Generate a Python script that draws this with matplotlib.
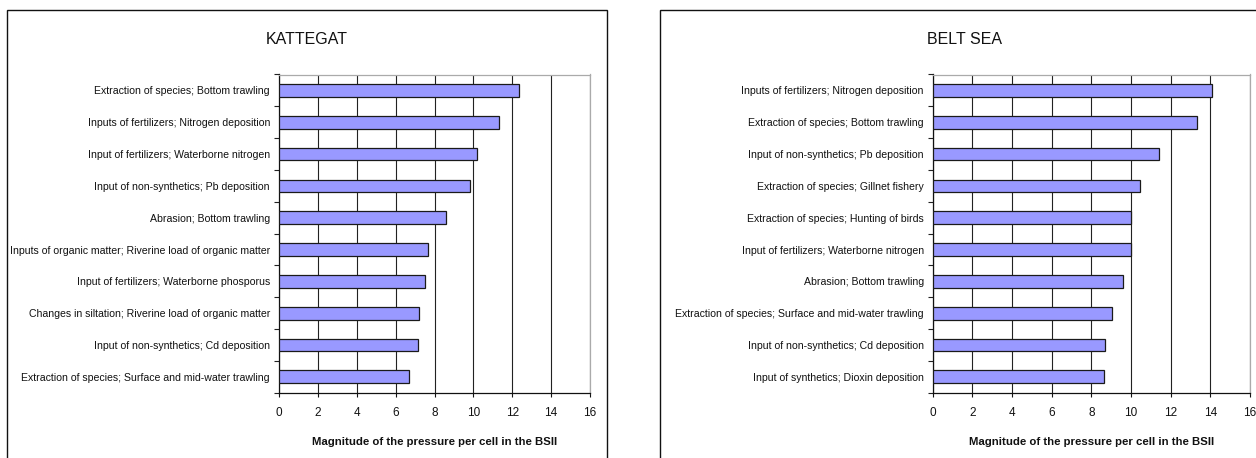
import matplotlib
matplotlib.use("Agg")
import matplotlib.pyplot as plt
from matplotlib.patches import Rectangle

plt.rcParams["font.family"] = ["Liberation Sans", "DejaVu Sans"]

# ---- data -------------------------------------------------------------
kattegat_labels = [
    "Extraction of species; Bottom trawling",
    "Inputs of fertilizers; Nitrogen deposition",
    "Input of fertilizers; Waterborne nitrogen",
    "Input of non-synthetics; Pb deposition",
    "Abrasion; Bottom trawling",
    "Inputs of organic matter; Riverine load of organic matter",
    "Input of fertilizers; Waterborne phosporus",
    "Changes in siltation; Riverine load of organic matter",
    "Input of non-synthetics; Cd deposition",
    "Extraction of species; Surface and mid-water trawling",
]
kattegat_values = [12.33, 11.3, 10.2, 9.85, 8.6, 7.67, 7.5, 7.18, 7.14, 6.68]

belt_labels = [
    "Inputs of fertilizers; Nitrogen deposition",
    "Extraction of species; Bottom trawling",
    "Input of non-synthetics; Pb deposition",
    "Extraction of species; Gillnet fishery",
    "Extraction of species; Hunting of birds",
    "Input of fertilizers; Waterborne nitrogen",
    "Abrasion; Bottom trawling",
    "Extraction of species; Surface and mid-water trawling",
    "Input of non-synthetics; Cd deposition",
    "Input of synthetics; Dioxin deposition",
]
belt_values = [14.1, 13.35, 11.4, 10.45, 10.0, 10.0, 9.6, 9.04, 8.68, 8.64]

panel_titles = ["KATTEGAT", "BELT SEA"]
x_ticks = list(range(0, 17, 2))
x_label = "Magnitude of the pressure per cell in the BSII"

# ---- layout (pixels) ----------------------------------------------------
W, H = 1256, 458
fig = plt.figure(figsize=(W / 100, H / 100), dpi=100)
fig.patch.set_facecolor("white")


def fx(px):
    return px / W


def fy(py):
    return 1 - py / H


panels = [
    # axes left, right, top, bottom ; frame left, right ; title centre x
    dict(ax=(279, 590, 74.5, 392.7), frame=(7, 607), title_x=307,
         labels=kattegat_labels, values=kattegat_values, title=panel_titles[0]),
    dict(ax=(932.7, 1250, 74.5, 392.7), frame=(660, 1262), title_x=964,
         labels=belt_labels, values=belt_values, title=panel_titles[1]),
]

for p in panels:
    l, r, t, b = p["ax"]
    ax = fig.add_axes([fx(l), fy(b), fx(r - l), (b - t) / H])
    n = len(p["values"])
    ypos = list(range(n))
    ax.barh(ypos, p["values"], height=0.4, color="#9999FF",
            edgecolor="#1a1a1a", linewidth=0.9, zorder=3)
    ax.set_xlim(0, 16)
    ax.set_ylim(n - 0.5, -0.5)

    ax.set_xticks(x_ticks)
    ax.set_xticklabels([str(v) for v in x_ticks])
    ax.xaxis.grid(True, color="#222222", linewidth=0.8, zorder=0)
    ax.set_axisbelow(True)

    ax.set_yticks(ypos)
    ax.set_yticklabels(p["labels"])
    ax.set_yticks([k - 0.5 for k in range(n + 1)], minor=True)
    ax.tick_params(axis="y", which="major", length=0, pad=6.5, labelsize=7.6,
                   colors="#111111")
    ax.tick_params(axis="y", which="minor", length=3.5, width=0.8,
                   direction="out", color="#222222")
    ax.tick_params(axis="x", which="major", length=3, width=0.8,
                   direction="out", pad=7, labelsize=8.5, colors="#111111")

    for side in ("left", "bottom"):
        ax.spines[side].set_color("#111111")
        ax.spines[side].set_linewidth(0.9)
    for side in ("top", "right"):
        ax.spines[side].set_color("#aaaaaa")
        ax.spines[side].set_linewidth(0.9)

    ax.set_xlabel(x_label, fontsize=8.2, fontweight="bold", labelpad=13,
                  color="#111111")

    # Outer chart frame (open at the bottom edge of the image)
    f0, f1 = p["frame"]
    fig.add_artist(Rectangle((fx(f0), fy(470)), fx(f1 - f0), (470 - 10) / H,
                             transform=fig.transFigure, fill=False,
                             edgecolor="#111111", linewidth=1.0,
                             clip_on=False))
    fig.text(fx(p["title_x"]), fy(40), p["title"], ha="center", va="center",
             fontsize=11.5, color="#111111")

fig.savefig("out.png", dpi=100, facecolor="white")
